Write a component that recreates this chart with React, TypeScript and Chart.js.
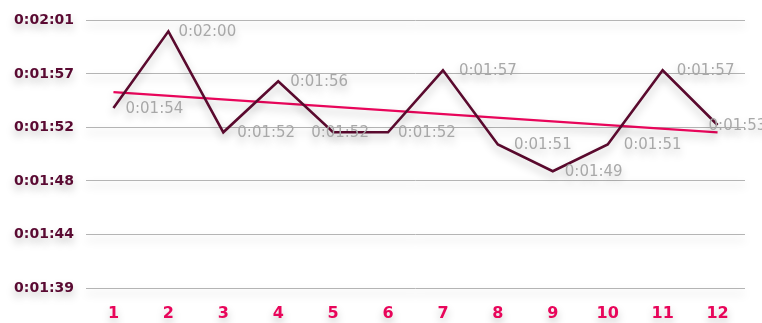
import React, { useEffect, useRef } from "react";
import { Chart, registerables } from "chart.js";

Chart.register(...registerables);

// Lap numbers along the bottom axis
const laps = ["1", "2", "3", "4", "5", "6", "7", "8", "9", "10", "11", "12"];

// Lap times in seconds
const lapTimes = [114.0, 120.3, 112.0, 116.2, 112.0, 112.0, 117.1, 111.0, 108.8, 111.0, 117.1, 112.6];

// Linear trend, first and last lap
const trendStart = 115.3;
const trendEnd = 112.0;

// Value axis
const yMin = 99.2;
const yMax = 121.2;
const yStep = 4.4;
const yTickLabels = ["0:01:39", "0:01:44", "0:01:48", "0:01:52", "0:01:57", "0:02:01"];

const LINE_COLOR = "#5a0a2e";
const PINK = "#e8055a";
const FONT = "'DejaVu Sans', sans-serif";

function formatTime(sec: number): string {
  const s = Math.round(sec);
  const h = Math.floor(s / 3600);
  const m = Math.floor((s % 3600) / 60);
  const r = s % 60;
  return `${h}:${String(m).padStart(2, "0")}:${String(r).padStart(2, "0")}`;
}

// Horizontal nudges for individual value labels (px)
const labelDx = [12, 10, 14, 12, -22, 10, 16, 16, 12, 16, 14, -9];

const shadowPlugin = {
  id: "softShadow",
  beforeDraw(chart: any) {
    const ctx = chart.ctx;
    ctx.save();
    ctx.shadowColor = "rgba(0,0,0,0.25)";
    ctx.shadowBlur = 8;
    ctx.shadowOffsetX = 0;
    ctx.shadowOffsetY = 5;
  },
  afterDraw(chart: any) {
    chart.ctx.restore();
  },
};

const valueLabels = {
  id: "valueLabels",
  afterDatasetsDraw(chart: any) {
    const ctx = chart.ctx;
    const meta = chart.getDatasetMeta(0);
    ctx.save();
    ctx.font = `15px ${FONT}`;
    ctx.fillStyle = "#a8a8a8";
    ctx.textAlign = "left";
    ctx.textBaseline = "middle";
    meta.data.forEach((pt: any, i: number) => {
      const v = lapTimes[i];
      ctx.fillText(formatTime(v), pt.x + labelDx[i], pt.y + 1);
    });
    ctx.restore();
  },
};

export default function App() {
  const canvasRef = useRef<HTMLCanvasElement | null>(null);

  useEffect(() => {
    document.body.style.margin = "0";
    const trendData: (number | null)[] = laps.map(() => null);
    trendData[0] = trendStart;
    trendData[laps.length - 1] = trendEnd;

    const chart = new Chart(canvasRef.current as HTMLCanvasElement, {
      type: "line",
      data: {
        labels: laps,
        datasets: [
          {
            data: lapTimes,
            borderColor: LINE_COLOR,
            borderWidth: 2.6,
            pointRadius: 0,
            tension: 0,
            fill: false,
          },
          {
            data: trendData,
            borderColor: PINK,
            borderWidth: 2.2,
            pointRadius: 0,
            spanGaps: true,
            fill: false,
          },
        ],
      },
      options: {
        animation: false,
        responsive: true,
        maintainAspectRatio: false,
        layout: { padding: { top: 20, right: 17, left: 0, bottom: 0 } },
        plugins: { legend: { display: false }, tooltip: { enabled: false } },
        scales: {
          x: {
            offset: true,
            afterFit(scale: any) {
              scale.height = 35;
            },
            grid: { display: false, drawTicks: false },
            border: { display: false },
            ticks: {
              color: PINK,
              font: { family: FONT, size: 16, weight: "bold" },
              padding: 16,
              maxRotation: 0,
            },
          },
          y: {
            min: yMin,
            max: yMax,
            afterFit(scale: any) {
              scale.width = 86;
            },
            afterBuildTicks(scale: any) {
              scale.ticks = yTickLabels.map((_, i) => ({ value: yMin + i * yStep }));
            },
            grid: { color: "#b4b4b4", lineWidth: 1, drawTicks: false },
            border: { display: false },
            ticks: {
              color: "#5a0a32",
              font: { family: FONT, size: 14, weight: "bold" },
              padding: 12,
              callback: (_v: any, i: number) => yTickLabels[i],
            },
          },
        },
      },
      plugins: [shadowPlugin, valueLabels],
    });
    return () => chart.destroy();
  }, []);

  return (
    <div style={{ position: "fixed", left: 0, top: 0, width: 762, height: 323 }}>
      <canvas ref={canvasRef} />
    </div>
  );
}
